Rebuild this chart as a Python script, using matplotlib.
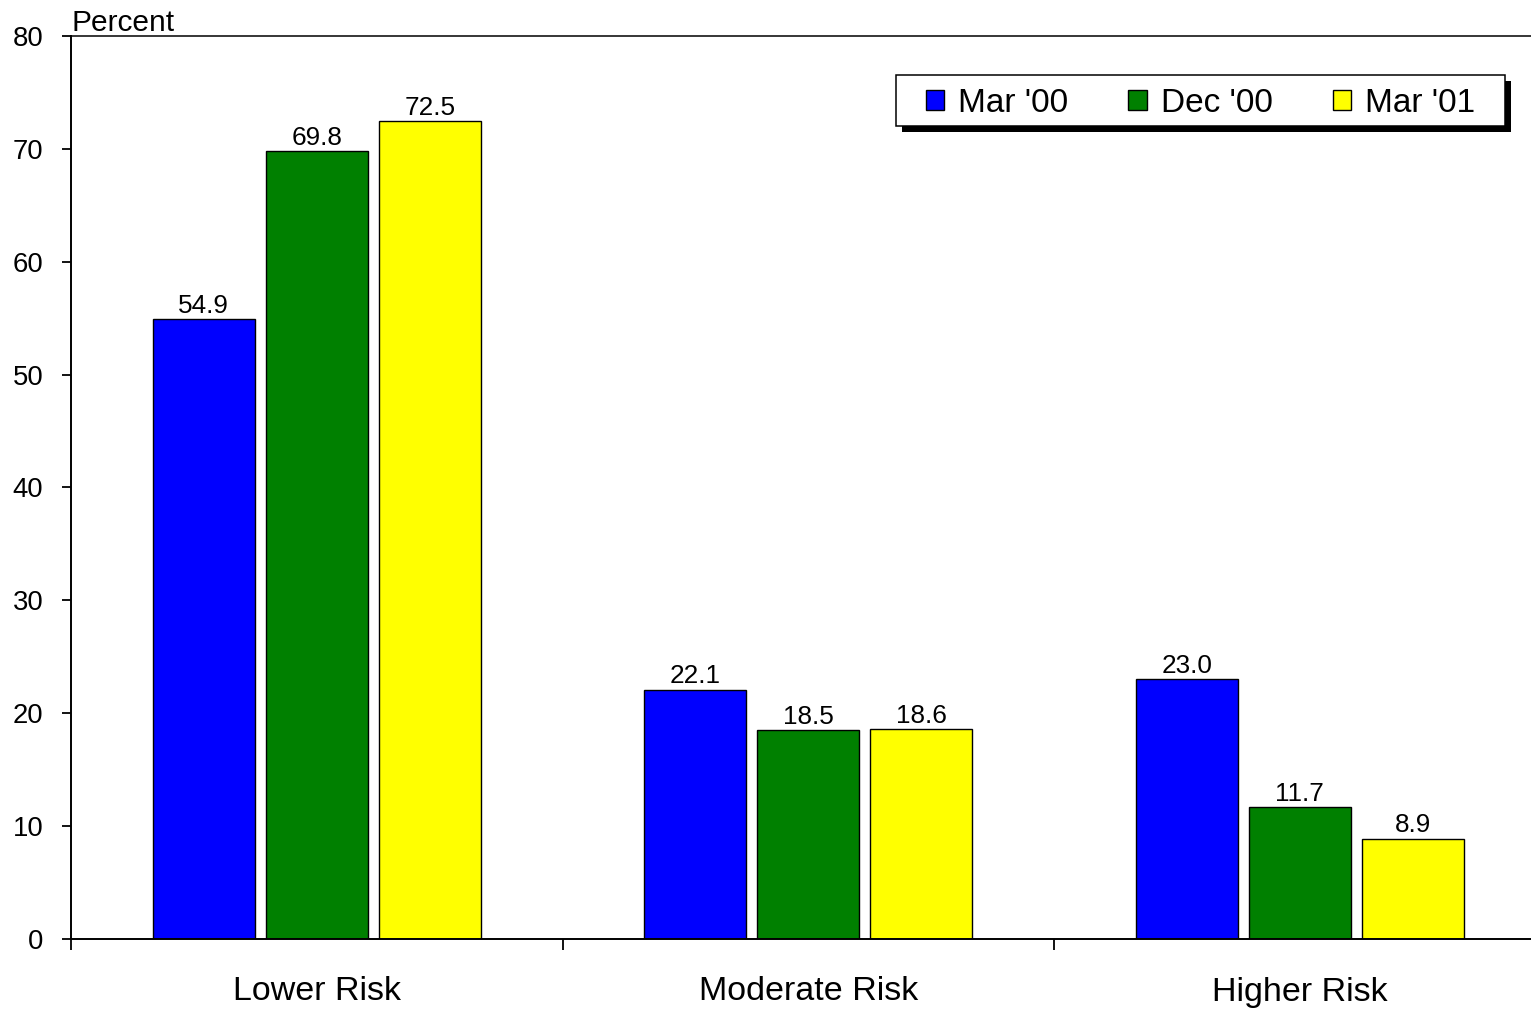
import matplotlib
matplotlib.use("Agg")
import matplotlib.pyplot as plt
from matplotlib.patches import Rectangle
import numpy as np

plt.rcParams['font.family'] = ['Liberation Sans', 'DejaVu Sans']

categories = ["Lower Risk", "Moderate Risk", "Higher Risk"]
series_names = ["Mar '00", "Dec '00", "Mar '01"]
mar_00 = [54.9, 22.1, 23.0]
dec_00 = [69.8, 18.5, 11.7]
mar_01 = [72.5, 18.6, 8.9]
series_values = [mar_00, dec_00, mar_01]
colors = ["#0000FF", "#008000", "#FFFF00"]
y_ticks = [0, 10, 20, 30, 40, 50, 60, 70, 80]

W, H = 1531, 1009
fig = plt.figure(figsize=(W / 100, H / 100), dpi=100)

def fx(px):
    return px / W

def fy(py):
    return 1 - py / H

# plot area: left spine at x=71, top at y=36, baseline at y=939
ax = fig.add_axes([fx(71), fy(939), (1545.5 - 71) / W, (939 - 36) / H])

x = np.arange(len(categories))
width = 0.2075
step = 0.23
bars = []
for i, (name, vals, col) in enumerate(zip(series_names, series_values, colors)):
    b = ax.bar(x + (i - 1) * step, vals, width, color=col, edgecolor="black",
               linewidth=1.0, label=name, zorder=2)
    ax.bar_label(b, labels=[f"{v:.1f}" for v in vals], padding=0.8,
                 fontsize=18.8, color="black")
    bars.append(b)

ax.set_xlim(-0.5, len(categories) - 0.5)
ax.set_ylim(0, 80)
ax.set_yticks(y_ticks)
ax.set_yticklabels([str(t) for t in y_ticks], fontsize=19.8)
ax.tick_params(axis="y", direction="out", length=6.5, width=1.3, pad=13.5)

ax.set_xticks(x)
ax.set_xticklabels(categories, fontsize=24.5)
ax.set_xticks(np.arange(-0.5, len(categories), 1.0), minor=True)
ax.tick_params(axis="x", which="major", length=0, pad=27)
ax.tick_params(axis="x", which="minor", direction="out", length=8, width=1.3)

for side in ["left", "bottom", "top"]:
    ax.spines[side].set_linewidth(1.4)
ax.spines["top"].set_linewidth(1.1)
ax.spines["right"].set_visible(False)

ax.annotate("Percent", xy=(0, 1), xycoords="axes fraction", xytext=(0, 3.5),
            textcoords="offset points", ha="left", va="baseline", fontsize=21.5)

# legend box with a solid drop shadow
box_l, box_t, box_r, box_b = 896, 74.5, 1505, 125.5
shadow = Rectangle((fx(box_l + 6), fy(box_b + 6)), (box_r - box_l) / W,
                   (box_b - box_t) / H, transform=fig.transFigure,
                   facecolor="black", edgecolor="none", zorder=3)
frame = Rectangle((fx(box_l), fy(box_b)), (box_r - box_l) / W,
                  (box_b - box_t) / H, transform=fig.transFigure,
                  facecolor="white", edgecolor="black", linewidth=1.1, zorder=4)
fig.add_artist(shadow)
fig.add_artist(frame)

leg = fig.legend(handles=bars, labels=series_names, loc="center",
                 bbox_to_anchor=(fx((box_l + box_r) / 2), fy((box_t + box_b) / 2 + 3)),
                 ncol=3, frameon=False, fontsize=24, handlelength=0.55,
                 handleheight=0.55, handletextpad=0.42, columnspacing=1.8,
                 borderpad=0, borderaxespad=0)
leg.set_zorder(5)

fig.savefig("out.png", dpi=100)
